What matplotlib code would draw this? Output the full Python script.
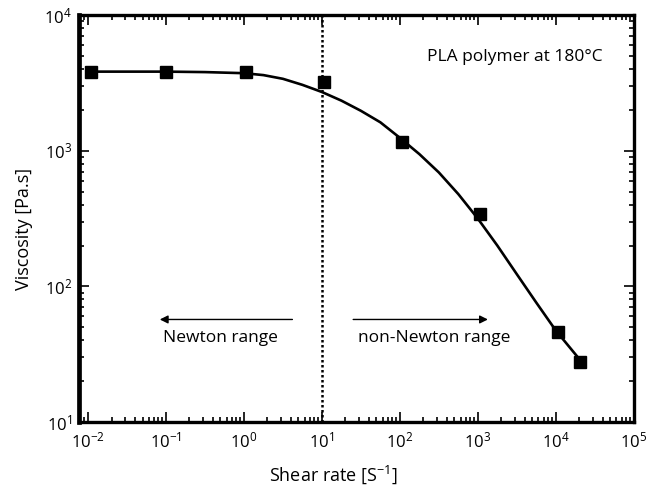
import matplotlib
matplotlib.use('Agg')
import matplotlib.pyplot as plt
from matplotlib.ticker import LogLocator, NullFormatter

plt.rcParams['font.family'] = ['Open Sans', 'DejaVu Sans']
plt.rcParams['mathtext.fontset'] = 'custom'
plt.rcParams['mathtext.rm'] = 'Open Sans'
plt.rcParams['mathtext.it'] = 'Open Sans:italic'

# measured points
shear_rate = [0.011, 0.1, 1.05, 10.7, 108, 1060, 10600, 20400]
viscosity = [3800, 3800, 3800, 3220, 1160, 339, 46, 27.6]

# fitted curve
fit_rate = [0.011, 0.1, 0.316, 1.0, 1.78, 3.16, 5.62, 10, 17.8, 31.6, 56.2, 100,
            178, 316, 562, 1000, 1778, 3162, 5623, 10000, 19200]
fit_visc = [3830, 3830, 3800, 3730, 3610, 3390, 3060, 2710, 2340, 1970, 1620, 1245,
            944, 692, 479, 316, 200, 123, 75.9, 47.3, 30]

newton_limit = 10

x_ticks = [1e-2, 1e-1, 1e0, 1e1, 1e2, 1e3, 1e4, 1e5]
x_labels = ['10$^{-2}$', '10$^{-1}$', '10$^{0}$', '10$^{1}$', '10$^{2}$', '10$^{3}$', '10$^{4}$', '10$^{5}$']
y_ticks = [1e1, 1e2, 1e3, 1e4]
y_labels = ['10$^{1}$', '10$^{2}$', '10$^{3}$', '10$^{4}$']

fig = plt.figure(figsize=(6.46, 4.87), dpi=100)
ax = fig.add_axes([0.1223, 0.1335, 0.8587, 0.8355])

ax.set_xscale('log')
ax.set_yscale('log')
ax.set_xlim(10 ** -2.116, 1e5)
ax.set_ylim(10, 1e4)

ax.plot(fit_rate, fit_visc, color='black', lw=1.9, zorder=3)
ax.plot(shear_rate, viscosity, 's', color='black', ms=8, zorder=4)
ax.axvline(newton_limit, color='black', ls=(0, (1, 1)), lw=1.8, zorder=2)

ax.annotate('', xy=(0.0767, 57), xytext=(4.54, 57),
            arrowprops=dict(arrowstyle='-|>', color='black', lw=1, mutation_scale=12))
ax.annotate('', xy=(1462, 57), xytext=(23.2, 57),
            arrowprops=dict(arrowstyle='-|>', color='black', lw=1, mutation_scale=12))
ax.text(0.497, 41.5, 'Newton range', ha='center', va='center', fontsize=12.5)
ax.text(279, 41.5, 'non-Newton range', ha='center', va='center', fontsize=12.5)
ax.text(0.785, 0.898, 'PLA polymer at 180°C', transform=ax.transAxes,
        ha='center', va='center', fontsize=12.5)

ax.set_xticks(x_ticks)
ax.set_xticklabels(x_labels)
ax.set_yticks(y_ticks)
ax.set_yticklabels(y_labels)
for axis in (ax.xaxis, ax.yaxis):
    axis.set_minor_locator(LogLocator(base=10, subs=range(2, 10), numticks=20))
    axis.set_minor_formatter(NullFormatter())

ax.tick_params(which='both', direction='in', top=True, right=True, width=1.2)
ax.tick_params(which='major', length=7, labelsize=12)
ax.tick_params(axis='x', which='major', pad=7)
ax.tick_params(axis='y', which='major', pad=5)
ax.tick_params(which='minor', length=3.5)

for side in ['top', 'right', 'bottom']:
    ax.spines[side].set_linewidth(2.4)
ax.spines['left'].set_linewidth(3.4)

ax.set_xlabel('Shear rate [S$^{-1}$]', fontsize=13)
ax.xaxis.set_label_coords(0.458, -0.103)
ax.set_ylabel('Viscosity [Pa.s]', fontsize=13)
ax.yaxis.set_label_coords(-0.083, 0.474)

fig.savefig('out.png', dpi=100)
